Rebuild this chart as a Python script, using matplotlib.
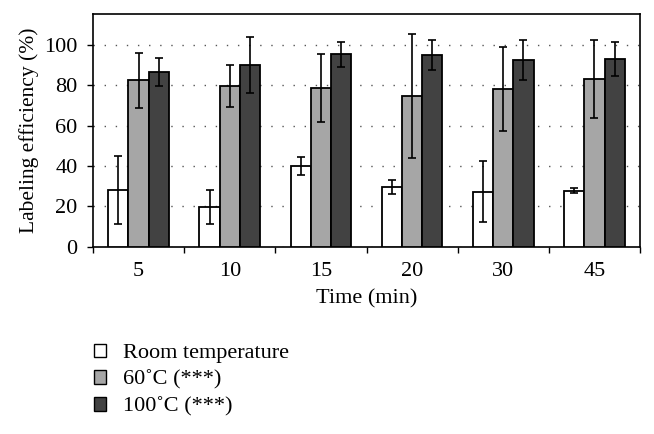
import matplotlib
matplotlib.use("Agg")
import matplotlib.pyplot as plt
import numpy as np
from matplotlib.patches import Patch

categories = ["5", "10", "15", "20", "30", "45"]
room = [28, 19.7, 40.2, 29.6, 27.3, 27.8]
room_err = [17, 8.5, 4.5, 3.3, 15, 1.3]
c60 = [82.6, 79.8, 78.7, 74.6, 78.2, 83.1]
c60_err = [13.6, 10.5, 17, 30.7, 21, 19.2]
c100 = [86.5, 90, 95.4, 95, 92.6, 93.1]
c100_err = [7, 14, 6.2, 7.3, 10, 8.6]
series_labels = ["Room temperature", "60\u02DAC (***)", "100\u02DAC (***)"]
colors = ["white", "#a6a6a6", "#424242"]

plt.rcParams['font.family'] = ['Liberation Serif', 'DejaVu Serif']

fig = plt.figure(figsize=(6.54, 4.34), dpi=100)
ax = fig.add_axes([0.1422, 0.4316, 0.8364, 0.5354])

x = np.arange(len(categories))
w = 0.222
for off, vals, errs, col in zip([-w, 0, w], [room, c60, c100], [room_err, c60_err, c100_err], colors):
    ax.bar(x + off, vals, width=w, color=col, edgecolor="black", linewidth=1.3, zorder=3)
    ax.errorbar(x + off, vals, yerr=errs, fmt="none", ecolor="black", elinewidth=1.2,
                capsize=3, capthick=1.2, zorder=4)

ax.set_xlim(-0.5, 5.5)
ax.set_ylim(0, 115.2)
ax.set_yticks([0, 20, 40, 60, 80, 100])
ax.set_xticks(x)
ax.set_xticklabels(categories)
ax.set_xticks(np.arange(-0.5, 6.0, 1.0), minor=True)
ax.tick_params(axis="x", which="major", length=0, pad=11, labelsize=16)
ax.tick_params(axis="x", which="minor", length=4, width=1, direction="out")
ax.tick_params(axis="y", length=4, width=1, direction="out", labelsize=16, pad=7)
for s in ax.spines.values():
    s.set_linewidth(1.2)
ax.yaxis.grid(True, linestyle=(0, (1, 7)), color="#555555", linewidth=1.0, zorder=0)
ax.set_axisbelow(True)

ax.set_xlabel("Time (min)", fontsize=16, labelpad=6)
ax.set_ylabel("Labeling efficiency (%)", fontsize=15.5, labelpad=4)

handles = [Patch(facecolor=c, edgecolor="black", linewidth=1.0) for c in colors]
fig.legend(handles, series_labels, loc="upper left", bbox_to_anchor=(0.13, 0.229),
           frameon=False, fontsize=16, handlelength=0.55, handleheight=0.55,
           handletextpad=0.75, labelspacing=0.33, borderaxespad=0)

fig.savefig("out.png", dpi=100)
